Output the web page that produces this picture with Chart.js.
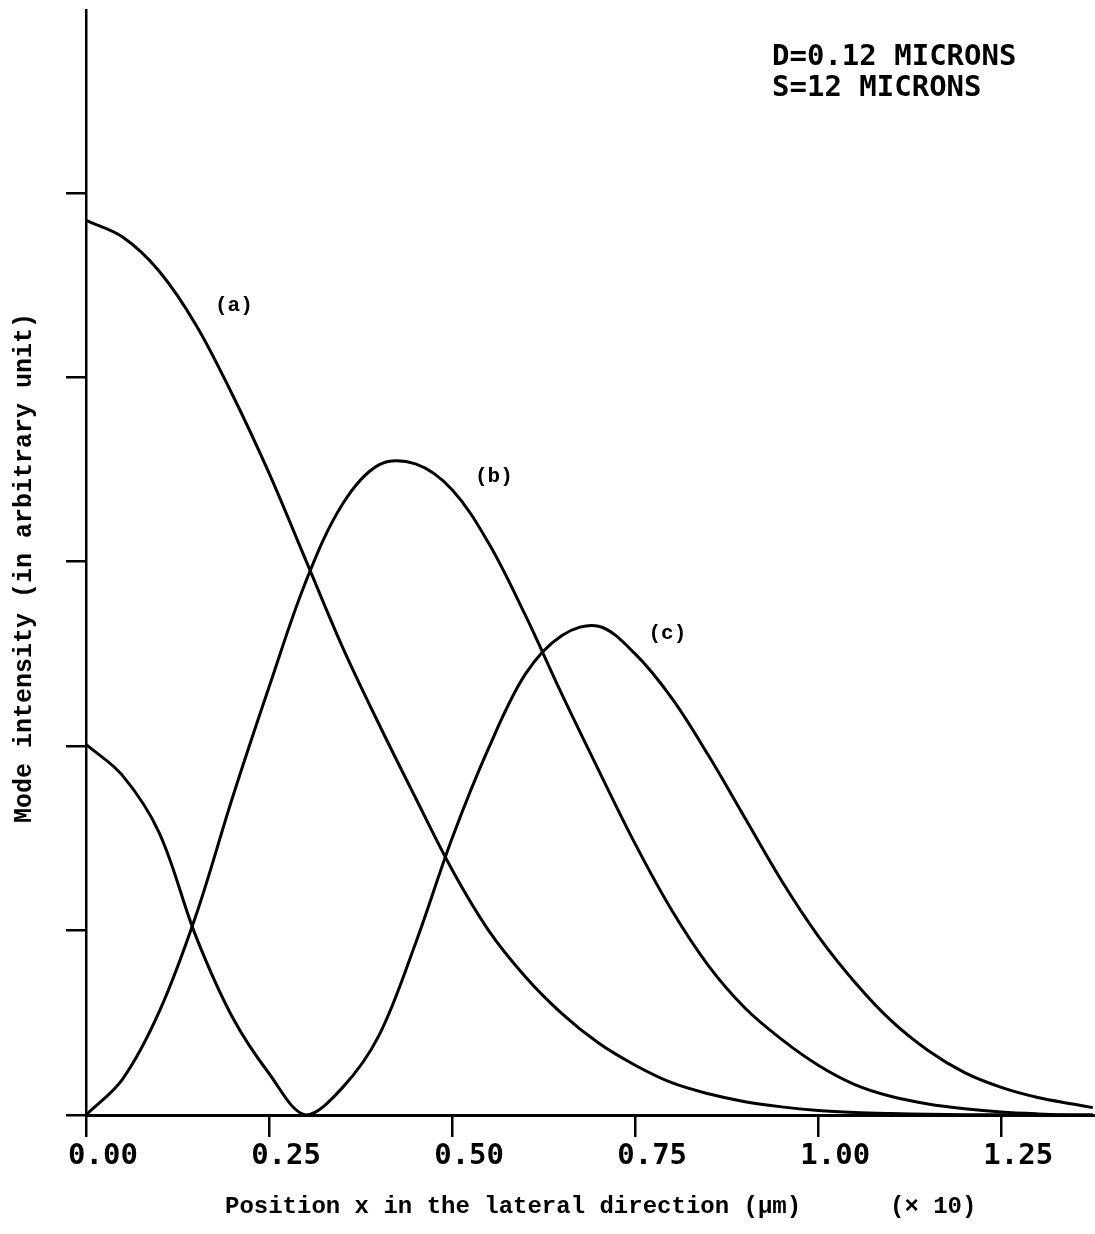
<!DOCTYPE html>
<html>
<head>
<meta charset="utf-8">
<script src="https://cdn.jsdelivr.net/npm/chart.js@4/dist/chart.umd.min.js"></script>
<style>
  html, body { margin: 0; padding: 0; background: #fff; }
  #wrap { width: 1095px; height: 1234px; }
</style>
</head>
<body>
<div id="wrap"><canvas id="modeChart" width="1095" height="1234"></canvas></div>
<script>
// Posições x (unidades do eixo, x 10 µm)
const xPos = [0, 0.05, 0.1, 0.15, 0.2, 0.25, 0.3, 0.35, 0.4, 0.45, 0.5, 0.55, 0.6, 0.65, 0.7,
  0.75, 0.8, 0.85, 0.9, 0.95, 1.0, 1.05, 1.1, 1.15, 1.2, 1.25, 1.3, 1.35, 1.375];

// Intensidades
const modeA = [4.85, 4.76, 4.575, 4.285, 3.905, 3.48, 3.01, 2.54, 2.12, 1.72, 1.33, 1.00, 0.75, 0.55, 0.39,
  0.27, 0.175, 0.115, 0.072, 0.044, 0.025, 0.014, 0.008, 0.004, 0.002, 0.001, 0, 0, 0];
const modeB = [0, 0.195, 0.56, 1.08, 1.72, 2.32, 2.89, 3.31, 3.525, 3.53, 3.39, 3.10, 2.71, 2.28, 1.87,
  1.47, 1.11, 0.81, 0.58, 0.41, 0.27, 0.165, 0.10, 0.06, 0.034, 0.016, 0.006, 0, 0];
const modeC = [2.01, 1.84, 1.53, 0.97, 0.53, 0.225, 0, 0.147, 0.43, 0.93, 1.50, 1.99, 2.39, 2.60, 2.65,
  2.50, 2.26, 1.95, 1.61, 1.27, 0.97, 0.72, 0.51, 0.35, 0.23, 0.15, 0.095, 0.058, 0.04];

const xTicks = [0, 0.25, 0.5, 0.75, 1.0, 1.25];
const curveNames = ["(a)", "(b)", "(c)"];
// onde fica cada rótulo de curva (coordenadas dos dados)
const curveLabelX = [0.202, 0.557, 0.794];
const curveLabelY = [4.39, 3.46, 2.61];
const noteLines = ["D=0.12 MICRONS", "S=12 MICRONS"];
const yTitle = "Mode intensity (in arbitrary unit)";
const xTitle = "Position x in the lateral direction (μm)";
const xFactor = "(× 10)";

const toPoints = ys => ys.map((y, i) => ({ x: xPos[i], y }));

function curve(ys) {
  return {
    data: toPoints(ys),
    borderColor: "#000",
    borderWidth: 3,
    pointRadius: 0,
    fill: false,
    tension: 0.35
  };
}

// Textos extras: nota, rótulos das curvas e títulos dos eixos
const textPlugin = {
  id: "texts",
  afterDraw(chart) {
    const ctx = chart.ctx;
    const xs = chart.scales.x, ys = chart.scales.y;
    ctx.save();
    ctx.fillStyle = "#000";

    ctx.font = "bold 29px 'DejaVu Sans Mono'";
    ctx.textAlign = "left";
    ctx.textBaseline = "alphabetic";
    ctx.fillText(noteLines[0], 772, 65);
    ctx.fillText(noteLines[1], 772, 96);

    ctx.font = "bold 21px 'Liberation Mono'";
    ctx.textAlign = "center";
    ctx.textBaseline = "middle";
    curveNames.forEach((name, i) => {
      ctx.fillText(name, xs.getPixelForValue(curveLabelX[i]), ys.getPixelForValue(curveLabelY[i]));
    });

    ctx.font = "bold 24px 'Liberation Mono'";
    ctx.textAlign = "left";
    ctx.textBaseline = "middle";
    ctx.fillText(xTitle, 225, 1207);
    ctx.fillText(xFactor, 890, 1207);

    ctx.translate(25, 568);
    ctx.rotate(-Math.PI / 2);
    ctx.textAlign = "center";
    ctx.font = "bold 25px 'Liberation Mono'";
    ctx.fillText(yTitle, 0, 0);
    ctx.restore();
  }
};

function renderChart() {
  const canvas = document.getElementById("modeChart").getContext("2d");
  new Chart(canvas, {
    type: "line",
    data: { datasets: [curve(modeA), curve(modeB), curve(modeC)] },
    options: {
      responsive: false,
      animation: false,
      layout: { padding: { top: 10, left: 0, right: 0, bottom: 0 } },
      plugins: { legend: { display: false }, tooltip: { enabled: false } },
      scales: {
        x: {
          type: "linear",
          min: 0,
          max: 1.378,
          afterFit: s => { s.height = 119; },
          afterBuildTicks: s => { s.ticks = xTicks.map(v => ({ value: v })); },
          ticks: {
            includeBounds: false,
            callback: v => Number(v).toFixed(2),
            color: "#000",
            font: { family: "DejaVu Sans Mono", size: 29, weight: "bold" },
            labelOffset: 17,
            padding: 2,
            maxRotation: 0,
            autoSkip: false
          },
          grid: { drawOnChartArea: false, drawTicks: true, tickLength: 22, color: "#000", lineWidth: 2.5 },
          border: { display: true, color: "#000", width: 3 }
        },
        y: {
          min: 0,
          max: 5.99,
          afterFit: s => { s.width = 86; },
          ticks: { stepSize: 1, includeBounds: false, callback: () => "" },
          grid: { drawOnChartArea: false, drawTicks: true, tickLength: 20, color: "#000", lineWidth: 2.5 },
          border: { display: true, color: "#000", width: 2.5 }
        }
      }
    },
    plugins: [textPlugin]
  });
}

document.addEventListener("DOMContentLoaded", renderChart);
</script>
</body>
</html>
